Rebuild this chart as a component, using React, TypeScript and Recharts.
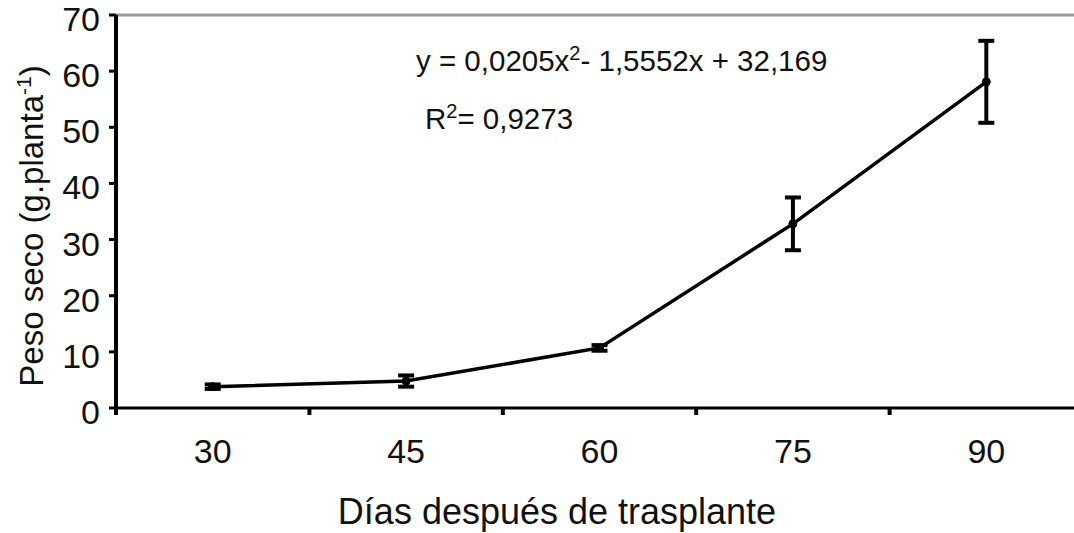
import { LineChart, Line, XAxis, YAxis, ErrorBar, ReferenceLine } from 'recharts';

// días después de trasplante
const DAYS = [30, 45, 60, 75, 90];
// peso seco (g/planta)
const PESO_SECO = [3.8, 4.8, 10.7, 32.8, 58.1];
const ERRORS = [0.4, 1.0, 0.5, 4.7, 7.3];

const Y_TICKS = [0, 10, 20, 30, 40, 50, 60, 70];
// tick marks sit between the day categories
const X_BOUNDARIES = [22.5, 37.5, 52.5, 67.5, 82.5];
const X_DOMAIN = [22.5, 96.8];

const FONT = '"Liberation Sans", Arial, sans-serif';

const data = DAYS.map((d, i) => ({ dia: d, peso: PESO_SECO[i], err: ERRORS[i] }));

const XTick = ({ x, y, payload }: any) => {
  if (X_BOUNDARIES.includes(payload.value)) {
    return <line x1={x} x2={x} y1={y} y2={y + 7} stroke="#000" strokeWidth={4} />;
  }
  return (
    <text x={x} y={y + 55} textAnchor="middle" fontSize={34} fontFamily={FONT} fill="#111">
      {payload.value}
    </text>
  );
};

const YTick = ({ x, y, payload }: any) => (
  <text x={x} y={y + 16} textAnchor="end" fontSize={34} fontFamily={FONT} fill="#111">
    {payload.value}
  </text>
);

const App = () => {
  return (
    <div style={{ position: 'absolute', left: 0, top: 0, width: 1074, height: 533, background: '#fff' }}>
      <LineChart width={1074} height={533} data={data} margin={{ top: 15, right: 0, bottom: 0, left: 0 }}>
        <ReferenceLine y={70} stroke="#999" strokeWidth={3} />
        <XAxis
          dataKey="dia"
          type="number"
          domain={X_DOMAIN}
          allowDataOverflow
          ticks={[...X_BOUNDARIES, ...DAYS].sort((a, b) => a - b)}
          interval={0}
          tickSize={0}
          tickMargin={0}
          tickLine={false}
          tick={(p: any) => <XTick {...p} />}
          axisLine={{ stroke: '#000', strokeWidth: 3 }}
          height={125}
        />
        <YAxis
          type="number"
          domain={[0, 70]}
          ticks={Y_TICKS}
          interval={0}
          width={116}
          tickSize={7}
          tickMargin={9}
          tickLine={{ stroke: '#000', strokeWidth: 3 }}
          axisLine={{ stroke: '#000', strokeWidth: 4 }}
          tick={(p: any) => <YTick {...p} />}
        />
        <Line
          type="linear"
          dataKey="peso"
          stroke="#000"
          strokeWidth={3.5}
          dot={{ r: 4, fill: '#000', stroke: '#000', strokeWidth: 1 }}
          activeDot={false}
          isAnimationActive={false}
        >
          <ErrorBar dataKey="err" direction="y" width={8} strokeWidth={4} stroke="#000" isAnimationActive={false} />
        </Line>

        <text x={416} y={71} fontSize={29.5} fontFamily={FONT} fill="#111">
          <tspan>y = 0,0205x</tspan>
          <tspan fontSize={20} dy={-11}>2</tspan>
          <tspan dy={11}>- 1,5552x  + 32,169</tspan>
        </text>
        <text x={425} y={129} fontSize={29.5} fontFamily={FONT} fill="#111">
          <tspan>R</tspan>
          <tspan fontSize={20} dy={-11}>2</tspan>
          <tspan dy={11}>= 0,9273</tspan>
        </text>

        <text x={43} y={226} transform="rotate(-90, 43, 226)" textAnchor="middle" fontSize={33} fontFamily={FONT} fill="#111">
          <tspan>Peso seco (g.planta</tspan>
          <tspan fontSize={21} dy={-12}>-1</tspan>
          <tspan dy={12}>)</tspan>
        </text>

        <text x={557} y={524} textAnchor="middle" fontSize={36} fontFamily={FONT} fill="#111">
          Días después de trasplante
        </text>
      </LineChart>
    </div>
  );
};

export default App;
